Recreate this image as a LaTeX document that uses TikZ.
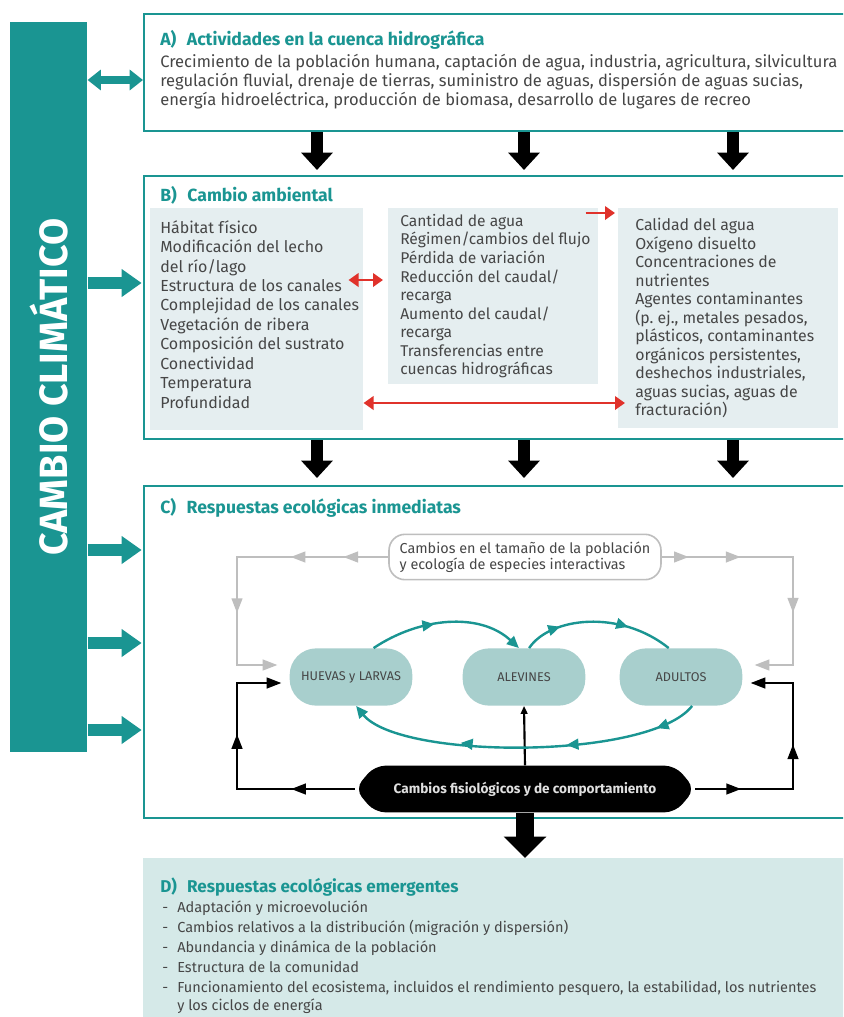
\documentclass[tikz,border=0pt]{standalone}
\usepackage{fontspec}
\setmainfont{Fira Sans}
\usetikzlibrary{arrows.meta,shapes.symbols,decorations.markings,positioning}

\definecolor{climateteal}{RGB}{26,149,146}
\definecolor{paneltint}{RGB}{229,238,240}
\definecolor{stagefill}{RGB}{168,207,205}
\definecolor{emergefill}{RGB}{213,233,232}
\definecolor{textgray}{RGB}{70,70,70}
\definecolor{linkred}{RGB}{224,50,43}
\definecolor{popgray}{RGB}{190,190,190}

\tikzset{
  graytip/.tip={Triangle[length=11pt,width=8pt]},
  blacktip/.tip={Triangle[length=11pt,width=8pt]},
  tealtip/.tip={Triangle[length=9pt,width=8pt]},
  redtip/.tip={Triangle[length=7.5pt,width=10pt]},
}

\begin{document}
\begin{tikzpicture}[x=0.75pt,y=-0.75pt,
    stagebox/.style={draw=climateteal,line width=1.5pt,fill=white,anchor=north west,inner sep=0,minimum width=528.75pt},
    boxhead/.style={anchor=west,inner sep=0,text=climateteal,font=\fontsize{13.2}{15}\selectfont\bfseries},
    boxtext/.style={anchor=north west,inner sep=0,align=left,text=textgray,font=\fontsize{12.4}{14.25}\selectfont},
    tint/.style={fill=paneltint,anchor=north west,inner sep=0},
    climatefeed/.style={climateteal,line width=9.5pt,-{Triangle[length=15pt,width=20pt]},shorten >=1pt},
    flowdown/.style={line width=9pt,-{Triangle[length=13pt,width=23pt]}},
    redlink/.style={linkred,line width=2.2pt,redtip-redtip},
    lifestage/.style={fill=stagefill,rounded corners=20pt,minimum width=92pt,minimum height=43pt,inner sep=0,text=textgray,font=\fontsize{9.5}{11}\selectfont},
    grayloop/.style={popgray,line width=1.5pt,-graytip,shorten >=9pt,postaction=decorate},
    blackloop/.style={line width=1.6pt,-blacktip,shorten >=6pt,postaction=decorate},
    lifecycle/.style={climateteal,line width=1.8pt,postaction=decorate}
  ]
  \useasboundingbox (0,0) rectangle (843,1017);
  \clip (0,0) rectangle (843,1017);

  % climate bar
  \node[fill=climateteal,anchor=north west,inner sep=0,minimum width=57.75pt,minimum height=547.5pt] (bar) at (10,22) {};
  \node[rotate=90,text=white,font=\fontsize{29.5}{32}\selectfont\bfseries] (cc) at (bar.center) {CAMBIO CLIMÁTICO};

  % the four boxes
  \node[stagebox,minimum height=87.75pt] (boxA) at (143,13) {};
  \node[stagebox,minimum height=197.25pt] (boxB) at (143,175) {};
  \node[stagebox,minimum height=249pt] (boxC) at (143,485) {};
  \node[fill=emergefill,anchor=north west,inner sep=0,minimum width=528.75pt,minimum height=123.75pt] (boxD) at (143,858) {};

  % A
  \node[boxhead] (headA) at (160,40) {A)\hspace{0.6em}Actividades en la cuenca hidrográfica};
  \node[boxtext] (textA) at (160,54) {Crecimiento de la población humana, captación de agua, industria, agricultura, silvicultura\\
    regulación fluvial, drenaje de tierras, suministro de aguas, dispersión de aguas sucias,\\
    energía hidroeléctrica, producción de biomasa, desarrollo de lugares de recreo};

  % B
  \node[boxhead] (headB) at (160,195) {B)\hspace{0.6em}Cambio ambiental};
  \node[tint,minimum width=159.75pt,minimum height=166.5pt] (bleft) at (150,208) {};
  \node[tint,minimum width=157.5pt,minimum height=132pt] (bmid) at (388,208) {};
  \node[tint,minimum width=165pt,minimum height=165pt] (bright) at (618,208) {};
  \node[boxtext,font=\fontsize{12}{14.6}\selectfont] (leftlist) at (160,220) {Hábitat físico\\ Modificación del lecho\\ del río/lago\\
    Estructura de los canales\\ Complejidad de los canales\\ Vegetación de ribera\\
    Composición del sustrato\\ Conectividad\\ Temperatura\\ Profundidad};
  \node[boxtext,font=\fontsize{11.7}{13.9}\selectfont] (midlist) at (400,214) {Cantidad de agua\\ Régimen/cambios del flujo\\ Pérdida de variación\\
    Reducción del caudal/\\ recarga\\ Aumento del caudal/\\ recarga\\ Transferencias entre\\ cuencas hidrográficas};
  \node[boxtext,font=\fontsize{11.9}{13.9}\selectfont] (rightlist) at (635,218) {Calidad del agua\\ Oxígeno disuelto\\ Concentraciones de\\
    nutrientes\\ Agentes contaminantes\\ (p.~ej., metales pesados,\\ plásticos, contaminantes\\
    orgánicos persistentes,\\ deshechos industriales,\\ aguas sucias, aguas de\\ fracturación)};
  \draw[redlink] ([xshift=-11.25pt]bleft.east |- 0,280) -- ([xshift=-3.75pt]bmid.west |- 0,280);
  \draw[redlink] (bleft.east |- 0,403) -- ([xshift=5.25pt]bright.west |- 0,403);
  \draw[redlink,arrows=-redtip] ([xshift=-9.75pt]bmid.east |- 0,213) -- ([xshift=-2.25pt]bright.west |- 0,213);

  % C
  \node[boxhead] (headC) at (160,508) {C)\hspace{0.6em}Respuestas ecológicas inmediatas};
  \node[draw=popgray,line width=1.2pt,fill=white,rounded corners=12pt,minimum width=204pt,minimum height=34pt,
    inner sep=3pt,align=left,text=textgray,font=\fontsize{10.8}{12}\selectfont] (pop) at (525,557)
    {Cambios en el tamaño de la población\\ y ecología de especies interactivas};
  \node[lifestage] (huevas) at (351,677) {HUEVAS y LARVAS};
  \node[lifestage] (alevines) at (524,677) {ALEVINES};
  \node[lifestage] (adultos) at (681,677) {ADULTOS};
  \node[shape=signal,signal to=west and east,signal pointer angle=100,fill=black,rounded corners=8pt,
    minimum width=255pt,minimum height=35pt,inner sep=0,text=black!12,font=\fontsize{10.2}{12}\selectfont\bfseries] (fisio) at (525,789)
    {Cambios fisiológicos y de comportamiento};

  \coordinate (gl) at (237,665);
  \coordinate (gr) at (793,665);
  \coordinate (bl) at (237,683);
  \coordinate (br) at (793,683);

  \draw[grayloop,decoration={markings,mark=at position 0.144 with {\arrow{graytip}},
      mark=at position 0.313 with {\arrow{graytip}},mark=at position 0.665 with {\arrow{graytip}}}]
    (pop.west) -| (gl) -- ([yshift=9pt]huevas.west);
  \draw[grayloop,decoration={markings,mark=at position 0.093 with {\arrow{graytip}},
      mark=at position 0.272 with {\arrow{graytip}},mark=at position 0.645 with {\arrow{graytip}}}]
    (pop.east) -| (gr) -- ([yshift=9pt]adultos.east);
  \draw[blackloop,decoration={markings,mark=at position 0.23 with {\arrow{blacktip}},
      mark=at position 0.625 with {\arrow{blacktip}}}]
    (fisio.west) -| (bl) -- ([yshift=-4.5pt]huevas.west);
  \draw[blackloop,decoration={markings,mark=at position 0.18 with {\arrow{blacktip}},
      mark=at position 0.56 with {\arrow{blacktip}}}]
    (fisio.east) -| (br) -- ([yshift=-4.5pt]adultos.east);
  \draw[line width=1.6pt,-{Triangle[length=6pt,width=5pt]}] (fisio.north) -- (alevines.south);

  \draw[lifecycle,-tealtip,decoration={markings,mark=at position 0.42 with {\arrow{tealtip}}}]
    (huevas.52) .. controls (420,617) and (480,612) .. (alevines.100);
  \draw[lifecycle,decoration={markings,mark=at position 0.25 with {\arrow{tealtip}},
      mark=at position 0.7 with {\arrow{tealtip}}}]
    (alevines.80) .. controls (550,617) and (620,609) .. (adultos.113);
  \draw[lifecycle,-tealtip,decoration={markings,mark=at position 0.12 with {\arrow{tealtip}},
      mark=at position 0.38 with {\arrow{tealtip}},mark=at position 0.68 with {\arrow{tealtip}}}]
    (adultos.-69) .. controls (650,760) and (400,760) .. (huevas.-80);

  % D
  \node[boxhead,font=\fontsize{12.8}{15}\selectfont\bfseries] (headD) at (160,887) {D)\hspace{0.6em}Respuestas ecológicas emergentes};
  \node[boxtext,font=\fontsize{10.9}{13.5}\selectfont] (emergent) at (162,901) {%
    \makebox[11.25pt][l]{-}Adaptación y microevolución\\[1.5pt]
    \makebox[11.25pt][l]{-}Cambios relativos a la distribución (migración y dispersión)\\[1.5pt]
    \makebox[11.25pt][l]{-}Abundancia y dinámica de la población\\[1.5pt]
    \makebox[11.25pt][l]{-}Estructura de la comunidad\\[1.5pt]
    \makebox[11.25pt][l]{-}Funcionamiento del ecosistema, incluidos el rendimiento pesquero, la estabilidad, los nutrientes\\
    \hspace*{11.25pt}y los ciclos de energía};

  % feeds from the climate bar
  \draw[climateteal,line width=6pt,{Triangle[length=10pt,width=15pt]}-{Triangle[length=10pt,width=15pt]}]
    (bar.east |- 0,80) -- (boxA.west |- 0,80);
  \foreach \fy in {283,550,643,730}
    \draw[climatefeed] (bar.east |- 0,\fy) -- (boxC.west |- 0,\fy);

  % flow between the boxes
  \foreach \fx in {317,524,733} {
    \draw[flowdown] (boxA.south -| \fx,0) -- ([yshift=3.75pt]boxB.north -| \fx,0);
    \draw[flowdown] (boxB.south -| \fx,0) -- ([yshift=5.25pt]boxC.north -| \fx,0);
  }
  \draw[line width=13.5pt,-{Triangle[length=16pt,width=31pt]}] (fisio.south) -- (fisio.south |- boxD.north);
\end{tikzpicture}
\end{document}
